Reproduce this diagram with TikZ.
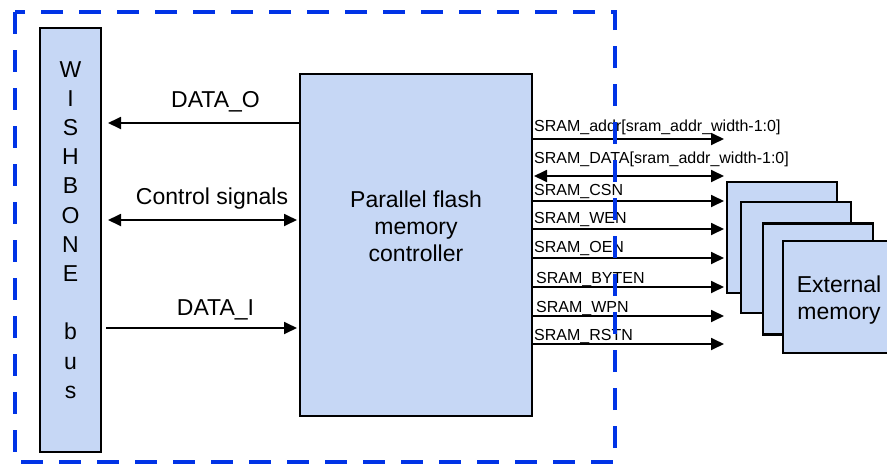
\documentclass[tikz,border=0pt]{standalone}
\usepackage{fontspec}
\setmainfont{Liberation Sans}
\usetikzlibrary{arrows.meta}
\definecolor{boxfill}{RGB}{198,215,245}
\definecolor{frameblue}{RGB}{0,51,230}

\begin{document}
\begin{tikzpicture}[x=1pt,y=-1pt,
  blk/.style={draw=black, fill=boxfill, line width=2pt, inner sep=0pt},
  membox/.style={draw=black, fill=boxfill, line width=2.6pt, inner sep=0pt,
                 minimum width=110pt, minimum height=111pt},
  big/.style={font=\fontsize{23}{27}\selectfont, inner sep=0pt},
  biglab/.style={big, anchor=base},
  small/.style={font=\fontsize{16}{18}\selectfont, inner sep=0pt, anchor=base west},
  sig/.style={line width=1.8pt, -{Triangle[length=13pt,width=12pt]}},
  bisig/.style={line width=1.8pt,
                {Triangle[length=13pt,width=12pt]}-{Triangle[length=13pt,width=12pt]}},
  frame/.style={draw=frameblue, line width=4pt, dash pattern=on 22pt off 16pt}]

\useasboundingbox (0,0) rectangle (887,466);

% Wishbone bus and the controller
\node[blk, minimum width=61pt, minimum height=424pt] (wb) at (70.5,240) {};
\node[blk, minimum width=232pt, minimum height=342pt] (ctrl) at (416,245) {};

% vertical bus caption, one letter per line
\foreach \ch/\k in {W/0,I/1,S/2,H/3,B/4,O/5,N/6,E/7,b/9,u/10,s/11}
  \node[biglab] (wb\k) at (70.5,77+\k*29.2) {\ch};

\node[big, align=center] (ctrltext) at (416,226.6)
  {Parallel flash\\memory\\controller};

% bus side signals
\draw[sig, shorten >=6pt] (ctrl.west |- 0,123) -- (wb.east |- 0,123);
\node[biglab] (datao) at (215.5,107) {DATA\_O};

\draw[bisig, shorten <=6pt, shorten >=2pt] (wb.east |- 0,220) -- (ctrl.west |- 0,220);
\node[biglab] (ctl) at (212,204) {Control signals};

\draw[sig, shorten <=4pt, shorten >=2pt] (wb.east |- 0,328) -- (ctrl.west |- 0,328);
\node[biglab] (datai) at (215.5,315) {DATA\_I};

% memory side signals
\coordinate (tips) at (724,0);
\draw[sig]   (ctrl.east |- 0,139) -- (tips |- 0,139);
\draw[bisig, shorten <=1pt] (ctrl.east |- 0,176) -- (tips |- 0,176);
\draw[sig]   (ctrl.east |- 0,201) -- (tips |- 0,201);
\draw[sig]   (ctrl.east |- 0,229) -- (tips |- 0,229);
\draw[sig]   (ctrl.east |- 0,258) -- (tips |- 0,258);
\draw[sig]   (ctrl.east |- 0,287) -- (tips |- 0,287);
\draw[sig]   (ctrl.east |- 0,316) -- (tips |- 0,316);
\draw[sig]   (ctrl.east |- 0,344) -- (tips |- 0,344);

\node[small] (laddr)  at (534,131) {SRAM\_addr[sram\_addr\_width-1:0]};
\node[small] (ldata)  at (534,163) {SRAM\_DATA[sram\_addr\_width-1:0]};
\node[small] (lcsn)   at (534,195) {SRAM\_CSN};
\node[small] (lwen)   at (534,223) {SRAM\_WEN};
\node[small] (loen)   at (534,252) {SRAM\_OEN};
\node[small] (lbyten) at (536,283) {SRAM\_BYTEN};
\node[small] (lwpn)   at (536,312) {SRAM\_WPN};
\node[small] (lrstn)  at (534,340) {SRAM\_RSTN};

% stacked external memory devices
\node[membox] (mem1) at (782,237.5) {};
\node[membox] (mem2) at (796,257.5) {};
\node[membox] (mem3) at (818,279) {};
\node[membox, minimum height=112pt] (mem4) at (838,297) {};
\node[big, align=center] (memtext) at (839,300.5) {External\\memory};

% dashed boundary of the controller core
\draw[frame] (15,12) rectangle (615,462);
\end{tikzpicture}
\end{document}
